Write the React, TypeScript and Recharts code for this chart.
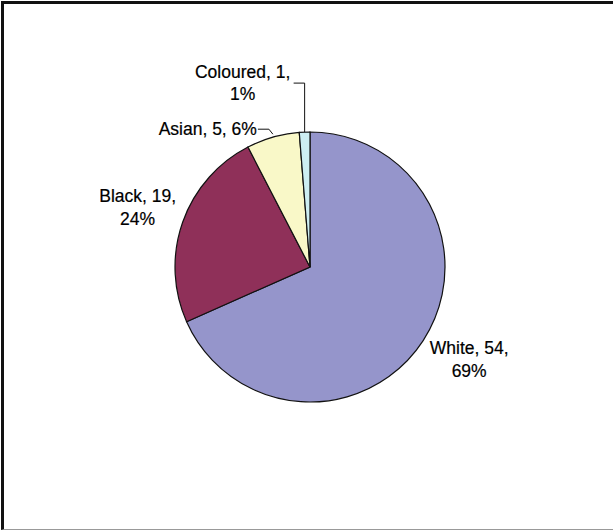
import React from "react";
import { PieChart, Pie, Cell } from "recharts";

const categories = ["White", "Black", "Asian", "Coloured"];
const counts = [54, 19, 5, 1];
const percentLabels = ["69%", "24%", "6%", "1%"];
const colors = ["#9595cb", "#8f3059", "#f9f8c8", "#cdeef2"];

const data = categories.map((name, i) => ({ name, value: counts[i] }));

const RAD = Math.PI / 180;
const polar = (cx: number, cy: number, r: number, a: number) => ({
  x: cx + r * Math.cos(-a * RAD),
  y: cy + r * Math.sin(-a * RAD),
});

const FONT = "'Liberation Sans', Arial, sans-serif";

const renderLabel = (props: any) => {
  const { cx, cy, midAngle, outerRadius, index } = props;
  const edge = polar(cx, cy, outerRadius, midAngle);
  const name = categories[index];
  const v = counts[index];
  const p = percentLabels[index];
  const textStyle = { fontFamily: FONT, fontSize: 17.5, fill: "#000", stroke: "#000", strokeWidth: 0.2 };
  if (index === 0) {
    const x = edge.x + 46;
    const y = edge.y + 13;
    return (
      <text x={x} y={y} textAnchor="middle" style={textStyle}>
        <tspan x={x} dy={0}>{`${name}, ${v},`}</tspan>
        <tspan x={x} dy={23}>{p}</tspan>
      </text>
    );
  }
  if (index === 1) {
    const x = edge.x - 45;
    const y = edge.y - 20;
    return (
      <text x={x} y={y} textAnchor="middle" style={textStyle}>
        <tspan x={x} dy={0}>{`${name}, ${v},`}</tspan>
        <tspan x={x} dy={23}>{p}</tspan>
      </text>
    );
  }
  if (index === 2) {
    const tx = edge.x - 15;
    const ty = edge.y - 8;
    return (
      <g>
        <path
          d={`M${edge.x},${edge.y - 3} L${edge.x - 4},${ty} L${tx},${ty}`}
          stroke="#111"
          fill="none"
          strokeWidth={1}
        />
        <text x={tx - 1} y={ty + 6} textAnchor="end" style={textStyle}>
          {`${name}, ${v}, ${p}`}
        </text>
      </g>
    );
  }
  const ly = edge.y - 49;
  const lx = edge.x - 11;
  const tx = edge.x - 62;
  return (
    <g>
      <path
        d={`M${edge.x},${edge.y} L${edge.x},${ly} L${lx},${ly}`}
        stroke="#111"
        fill="none"
        strokeWidth={1}
      />
      <text x={tx} y={ly - 5} textAnchor="middle" style={textStyle}>
        <tspan x={tx} dy={0}>{`${name}, ${v},`}</tspan>
        <tspan x={tx} dy={22}>{p}</tspan>
      </text>
    </g>
  );
};

export default function App() {
  return (
    <div
      style={{
        position: "absolute",
        left: 0,
        top: 0,
        width: 613,
        height: 531,
        background: "#fff",
        overflow: "hidden",
      }}
    >
      <div
        style={{
          position: "absolute",
          left: 1,
          top: 1,
          width: 640,
          height: 529,
          borderTop: "3px solid #111",
          borderLeft: "3px solid #111",
          borderBottom: "1px solid #999",
          boxSizing: "border-box",
        }}
      />
      <div style={{ position: "absolute", left: 0, top: 0 }}>
        <PieChart width={613} height={531} margin={{ top: 0, right: 0, bottom: 0, left: 0 }}>
          <Pie
            data={data}
            dataKey="value"
            nameKey="name"
            cx={310}
            cy={267}
            outerRadius={135}
            startAngle={90}
            endAngle={-270}
            stroke="#111"
            strokeWidth={1.2}
            label={renderLabel}
            labelLine={false}
            isAnimationActive={false}
          >
            {data.map((d, i) => (
              <Cell key={d.name} fill={colors[i]} />
            ))}
          </Pie>
        </PieChart>
      </div>
    </div>
  );
}
